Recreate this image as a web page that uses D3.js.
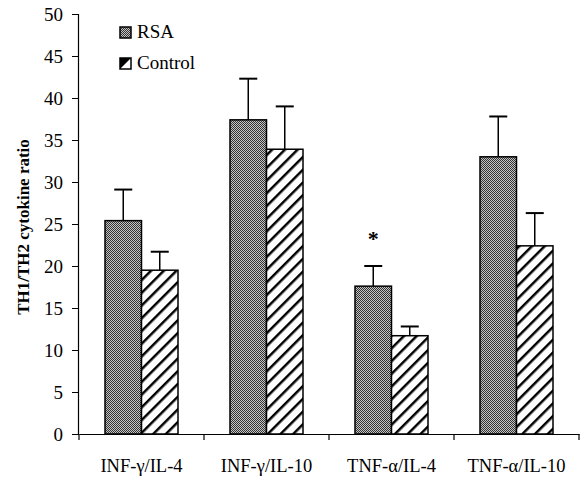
<!DOCTYPE html>
<html>
<head>
<meta charset="utf-8">
<script src="https://cdn.jsdelivr.net/npm/d3@7"></script>
<style>
  body { margin: 0; background: #fff; }
</style>
</head>
<body>
<script>
var categories = ["INF-\u03B3/IL-4", "INF-\u03B3/IL-10", "TNF-\u03B1/IL-4", "TNF-\u03B1/IL-10"];
var groups = ["RSA", "Control"];
var rsaValues = [25.4, 37.4, 17.6, 33.0];
var rsaErrors = [3.7, 4.9, 2.4, 4.8];
var controlValues = [19.5, 33.9, 11.7, 22.4];
var controlErrors = [2.2, 5.1, 1.1, 3.9];
var yTicks = [0, 5, 10, 15, 20, 25, 30, 35, 40, 45, 50];
var starred = [2];

var serif = "'Liberation Serif', 'Times New Roman', Times, serif";
var w = 582, h = 479;
var margin = {top: 14, right: 3, bottom: 45, left: 79};

var svg = d3.select("body").append("svg")
    .attr("width", w)
    .attr("height", h);

var defs = svg.append("defs");

// stippled grey fill for RSA
var dots = defs.append("pattern")
    .attr("id", "dots")
    .attr("patternUnits", "userSpaceOnUse")
    .attr("width", 2).attr("height", 2);
dots.append("rect").attr("width", 2).attr("height", 2).attr("fill", "#c4c4c4");
dots.append("rect").attr("width", 1).attr("height", 1).attr("fill", "#333");
dots.append("rect").attr("x", 1).attr("y", 1).attr("width", 1).attr("height", 1).attr("fill", "#333");

// diagonal hatch for Control
var hatch = defs.append("pattern")
    .attr("id", "hatch")
    .attr("patternUnits", "userSpaceOnUse")
    .attr("width", 9).attr("height", 9)
    .attr("patternTransform", "rotate(45)");
hatch.append("rect").attr("width", 9).attr("height", 9).attr("fill", "#fff");
hatch.append("line")
    .attr("x1", 0).attr("y1", 0).attr("x2", 0).attr("y2", 9)
    .attr("stroke", "#000").attr("stroke-width", 5);

var fills = {RSA: "url(#dots)", Control: "url(#hatch)"};

var x = d3.scaleBand()
    .domain(categories)
    .range([margin.left, w - margin.right]);

var xInner = d3.scaleBand()
    .domain(groups)
    .range([0, 73]);

var y = d3.scaleLinear()
    .domain([0, 50])
    .range([h - margin.bottom, margin.top]);

var rows = [];
categories.forEach(function(c, i) {
  rows.push({cat: c, group: "RSA", value: rsaValues[i], err: rsaErrors[i]});
  rows.push({cat: c, group: "Control", value: controlValues[i], err: controlErrors[i]});
});

function barX(d) {
  return x(d.cat) + (x.bandwidth() - 73) / 2 + xInner(d.group);
}

// error bars (drawn first so bars cover the lower part)
var eb = svg.append("g").selectAll("g")
    .data(rows).enter().append("g");
eb.append("line")
    .attr("x1", function(d) { return barX(d) + xInner.bandwidth() / 2; })
    .attr("x2", function(d) { return barX(d) + xInner.bandwidth() / 2; })
    .attr("y1", function(d) { return y(d.value); })
    .attr("y2", function(d) { return y(d.value + d.err); })
    .attr("stroke", "#000").attr("stroke-width", 1.5);
eb.append("line")
    .attr("x1", function(d) { return barX(d) + xInner.bandwidth() / 2 - 9; })
    .attr("x2", function(d) { return barX(d) + xInner.bandwidth() / 2 + 9; })
    .attr("y1", function(d) { return y(d.value + d.err); })
    .attr("y2", function(d) { return y(d.value + d.err); })
    .attr("stroke", "#000").attr("stroke-width", 2);

svg.append("g").selectAll("rect")
    .data(rows).enter().append("rect")
    .attr("x", barX)
    .attr("y", function(d) { return y(d.value); })
    .attr("width", xInner.bandwidth())
    .attr("height", function(d) { return y(0) - y(d.value); })
    .attr("fill", function(d) { return fills[d.group]; })
    .attr("stroke", "#000")
    .attr("stroke-width", 1.5);

// significance marks
svg.append("g").selectAll("text")
    .data(starred).enter().append("text")
    .attr("x", function(i) { return barX({cat: categories[i], group: "RSA"}) + xInner.bandwidth() / 2; })
    .attr("y", function(i) { return y(rsaValues[i] + rsaErrors[i]) - 20; })
    .attr("text-anchor", "middle")
    .style("font-size", "22px")
    .style("font-weight", "bold")
    .text("*");

// axes
var yAxis = svg.append("g")
    .attr("transform", "translate(" + (margin.left - 1) + ",0)")
    .call(d3.axisLeft(y).tickValues(yTicks).tickSize(6).tickPadding(9));
yAxis.select(".domain").attr("stroke-width", 1.2);
yAxis.selectAll("text").style("font-size", "19px");

var xAxis = svg.append("g")
    .attr("transform", "translate(0," + y(0) + ")")
    .call(d3.axisBottom(x).tickSize(0).tickPadding(0));
xAxis.select(".domain").attr("stroke-width", 1.2);
xAxis.selectAll(".tick text")
    .attr("y", 38)
    .attr("dy", 0)
    .style("font-size", "18.5px");

// category separator ticks
svg.append("g").selectAll("line")
    .data(categories.concat(["end"])).enter().append("line")
    .attr("x1", function(d, i) { return margin.left + i * x.bandwidth(); })
    .attr("x2", function(d, i) { return margin.left + i * x.bandwidth(); })
    .attr("y1", y(0))
    .attr("y2", y(0) + 6)
    .attr("stroke", "#000")
    .attr("stroke-width", 1.2);

svg.append("text")
    .attr("transform", "translate(29," + (y(25) + 3) + ") rotate(-90)")
    .attr("text-anchor", "middle")
    .style("font-size", "17px")
    .style("font-weight", "bold")
    .text("TH1/TH2 cytokine ratio");

// legend
var legend = svg.append("g").selectAll("g")
    .data(groups).enter().append("g")
    .attr("transform", function(d, i) { return "translate(120," + (27 + i * 31) + ")"; });
legend.append("rect")
    .attr("width", 11).attr("height", 11)
    .attr("fill", function(d) { return d === "RSA" ? fills[d] : "#fff"; })
    .attr("stroke", "#000").attr("stroke-width", 1.5);
legend.filter(function(d) { return d === "Control"; }).append("path")
    .attr("d", "M0,11 L11,0 L0,0 Z")
    .attr("fill", "#000");
legend.append("text")
    .attr("x", 17)
    .attr("y", 11)
    .style("font-size", "19px")
    .text(function(d) { return d; });

// every label in Times-like serif
svg.selectAll("text")
    .style("font-family", serif)
    .attr("fill", "#000");
</script>
</body>
</html>
